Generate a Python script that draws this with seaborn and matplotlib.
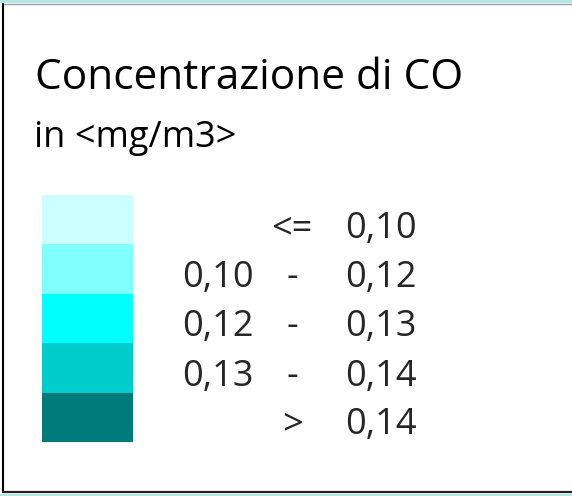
import numpy as np
import matplotlib
matplotlib.use('Agg')
import matplotlib.pyplot as plt
from matplotlib.colors import ListedColormap
from matplotlib.patches import Rectangle
import seaborn as sns

# legend content
title = 'Concentrazione di CO'
unit = 'in <mg/m3>'
class_colors = ['#CCFFFF', '#80FFFF', '#00FFFF', '#00CCCC', '#007B7B']
low_labels = ['', '0,10', '0,12', '0,13', '']
sep_labels = ['<=', '-', '-', '-', '>']
high_labels = ['0,10', '0,12', '0,13', '0,14', '0,14']

sns.set_theme(style='white')
plt.rcParams['font.family'] = ['Open Sans', 'DejaVu Sans']

W, H = 572, 496
fig = plt.figure(figsize=(W / 100, H / 100), dpi=100, facecolor='white')

# background axes in pixel coordinates (y down)
bg = fig.add_axes([0, 0, 1, 1])
bg.set_xlim(0, W)
bg.set_ylim(H, 0)
bg.axis('off')

# light cyan strips outside the frame
bg.add_patch(Rectangle((0, 0), W, 3, color='#B4E6E6', lw=0))
bg.add_patch(Rectangle((0, 493.5), W, 3, color='#B4E6E6', lw=0))
# frame
bg.plot([3, W], [3.8, 3.8], color='#9a9a9a', lw=1.0)
bg.plot([3, 3], [3.8, 492], color='black', lw=1.5)
bg.plot([3, W], [492, 492], color='#222222', lw=1.6)

# title
bg.text(35, 89, title, fontsize=30.5, color='black', ha='left', va='baseline')
bg.text(34, 147, unit, fontsize=26, color='black', ha='left', va='baseline')

# colour swatches as a one-column heatmap
sw = fig.add_axes([42 / W, 1 - 442 / H, 91 / W, 247 / H])
classes = np.arange(len(class_colors)).reshape(-1, 1)
sns.heatmap(classes, cmap=ListedColormap(class_colors), cbar=False,
            xticklabels=False, yticklabels=False, ax=sw,
            vmin=-0.5, vmax=len(class_colors) - 0.5)
sw.set_xlabel('')
sw.set_ylabel('')

# class labels
baselines = [238, 287, 336, 386, 434]
for yb, lo, sep, hi in zip(baselines, low_labels, sep_labels, high_labels):
    if lo:
        bg.text(182, yb, lo, fontsize=26, ha='left', va='baseline')
    bg.text(292, yb, sep, fontsize=26, ha='center', va='baseline')
    bg.text(345, yb, hi, fontsize=26, ha='left', va='baseline')

fig.savefig('out.png', dpi=100, facecolor='white')
